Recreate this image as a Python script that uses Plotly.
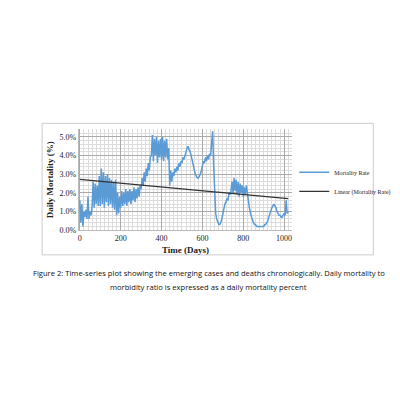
import numpy as np
import plotly.graph_objects as go

days = list(range(0, 1025, 5))
mortality = [
    1.6, 0.4, 1.4, 0.2,
    1.0, 0.7, 1.1, 0.6, 1.8, 0.6, 1.0, 0.8,
    1.3, 2.6, 1.2, 2.5, 1.4, 2.4, 1.3, 2.9,
    1.3, 3.3, 1.4, 3.1, 1.2, 2.9, 1.5, 3.0, 1.3, 2.8, 1.4, 2.7, 1.2, 2.6, 1.1, 2.7,
    0.8, 2.0, 0.9, 1.8,
    1.2, 2.1, 1.3, 2.0, 1.4, 2.2, 1.3, 2.1, 1.5, 2.2, 1.4, 2.1, 1.6, 2.3, 1.5, 2.2, 1.7, 2.3, 1.8, 2.4,
    2.2, 2.8, 2.4, 3.1, 2.6, 3.3, 2.9, 3.6, 3.2, 3.9,
    4.0, 5.1, 3.7, 4.9, 4.0, 5.0, 3.6, 4.8, 3.9, 4.9, 3.8, 5.0, 3.7, 4.8,
    3.9, 4.9, 3.8, 4.4,
    2.4, 3.2, 2.6, 3.1,
    2.9, 3.3, 3.1, 3.4, 3.2, 3.6, 3.4, 3.7, 3.6, 3.9, 3.8, 4.1, 4.2, 4.4,
    4.5, 4.3, 4.2, 4.0, 3.7, 3.5, 3.2, 3.0, 2.9, 2.8,
    2.8, 2.9, 3.0, 3.2,
    3.5, 3.7, 3.6, 3.9, 3.7, 4.0, 3.8, 4.1, 4.0, 4.6,
    5.3, 3.5, 1.8, 0.9, 0.6, 0.4, 0.3, 0.3,
    0.4, 0.6, 0.9, 1.2, 1.4, 1.5, 1.7, 1.6, 2.0, 1.9,
    2.1, 2.6, 2.0, 2.8, 2.1, 2.7, 1.9, 2.6, 1.8, 2.5, 2.0, 2.4, 1.8, 2.3, 1.9, 2.4,
    1.9, 1.6, 1.2, 0.9, 0.7, 0.5, 0.4, 0.3,
    0.3, 0.2, 0.2, 0.2, 0.2, 0.2, 0.2, 0.2, 0.2, 0.3, 0.3, 0.4,
    0.5, 0.7, 0.9, 1.1, 1.2, 1.3, 1.4, 1.3,
    1.2, 1.0, 0.9, 0.8, 0.8, 0.7, 0.7, 0.8,
    0.9, 0.8, 1.6, 0.9, 1.0,
]
caption = ["Figure 2: Time-series plot showing the emerging cases and deaths chronologically. Daily mortality to",
           "morbidity ratio is expressed as a daily mortality percent"]

# linear trend like Excel's "Linear (...)"
k, b = np.polyfit(days, mortality, 1)
trend = [k * d + b for d in days]

serif = "Liberation Serif"
fig = go.Figure()
fig.add_trace(go.Scatter(x=days, y=mortality, name="Mortality Rate", mode="lines",
                         line=dict(color="#5b9bd5", width=1.5)))
fig.add_trace(go.Scatter(x=days, y=trend, name="Linear (Mortality Rate)", mode="lines",
                         line=dict(color="#333333", width=1.2)))

fig.update_layout(
    width=400, height=400, margin=dict(l=0, r=0, t=0, b=0),
    paper_bgcolor="white", plot_bgcolor="white",
    font=dict(family=serif, size=8, color="#222"),
    showlegend=True,
    legend=dict(x=0.715, y=0.56, xanchor="left", yanchor="middle", tracegroupgap=12,
                itemwidth=30, font=dict(family=serif, size=6), bgcolor="rgba(0,0,0,0)"),
    xaxis=dict(domain=[0.175, 0.71], range=[-5, 1040], dtick=200, tick0=0,
               showgrid=True, gridcolor="#aaaaaa", gridwidth=1,
               minor=dict(dtick=20, showgrid=True, gridcolor="#dddddd"),
               showline=True, linecolor="#bbbbbb", zeroline=False,
               title=dict(text="<b>Time (Days)</b>", font=dict(family=serif, size=9), standoff=4)),
    yaxis=dict(domain=[0.4375, 0.6925], range=[0, 5.4], dtick=1, tickformat=".1f", ticksuffix="%",
               showgrid=True, gridcolor="#aaaaaa", gridwidth=1,
               minor=dict(dtick=0.2, showgrid=True, gridcolor="#dddddd"),
               showline=True, linecolor="#bbbbbb", zeroline=False,
               title=dict(text="<b>Daily Mortality (%)</b>", font=dict(family=serif, size=9), standoff=4)),
)
fig.add_shape(type="rect", xref="paper", yref="paper", x0=0.083, x1=0.913, y0=0.375, y1=0.708,
              line=dict(color="#cccccc", width=1))
for i, line in enumerate(caption):
    fig.add_annotation(text=line, xref="paper", yref="paper", x=0.5, y=0.312 - i * 0.036,
                       showarrow=False, font=dict(family="Open Sans", size=7.6, color="#111"))

fig.write_html("out.html")
